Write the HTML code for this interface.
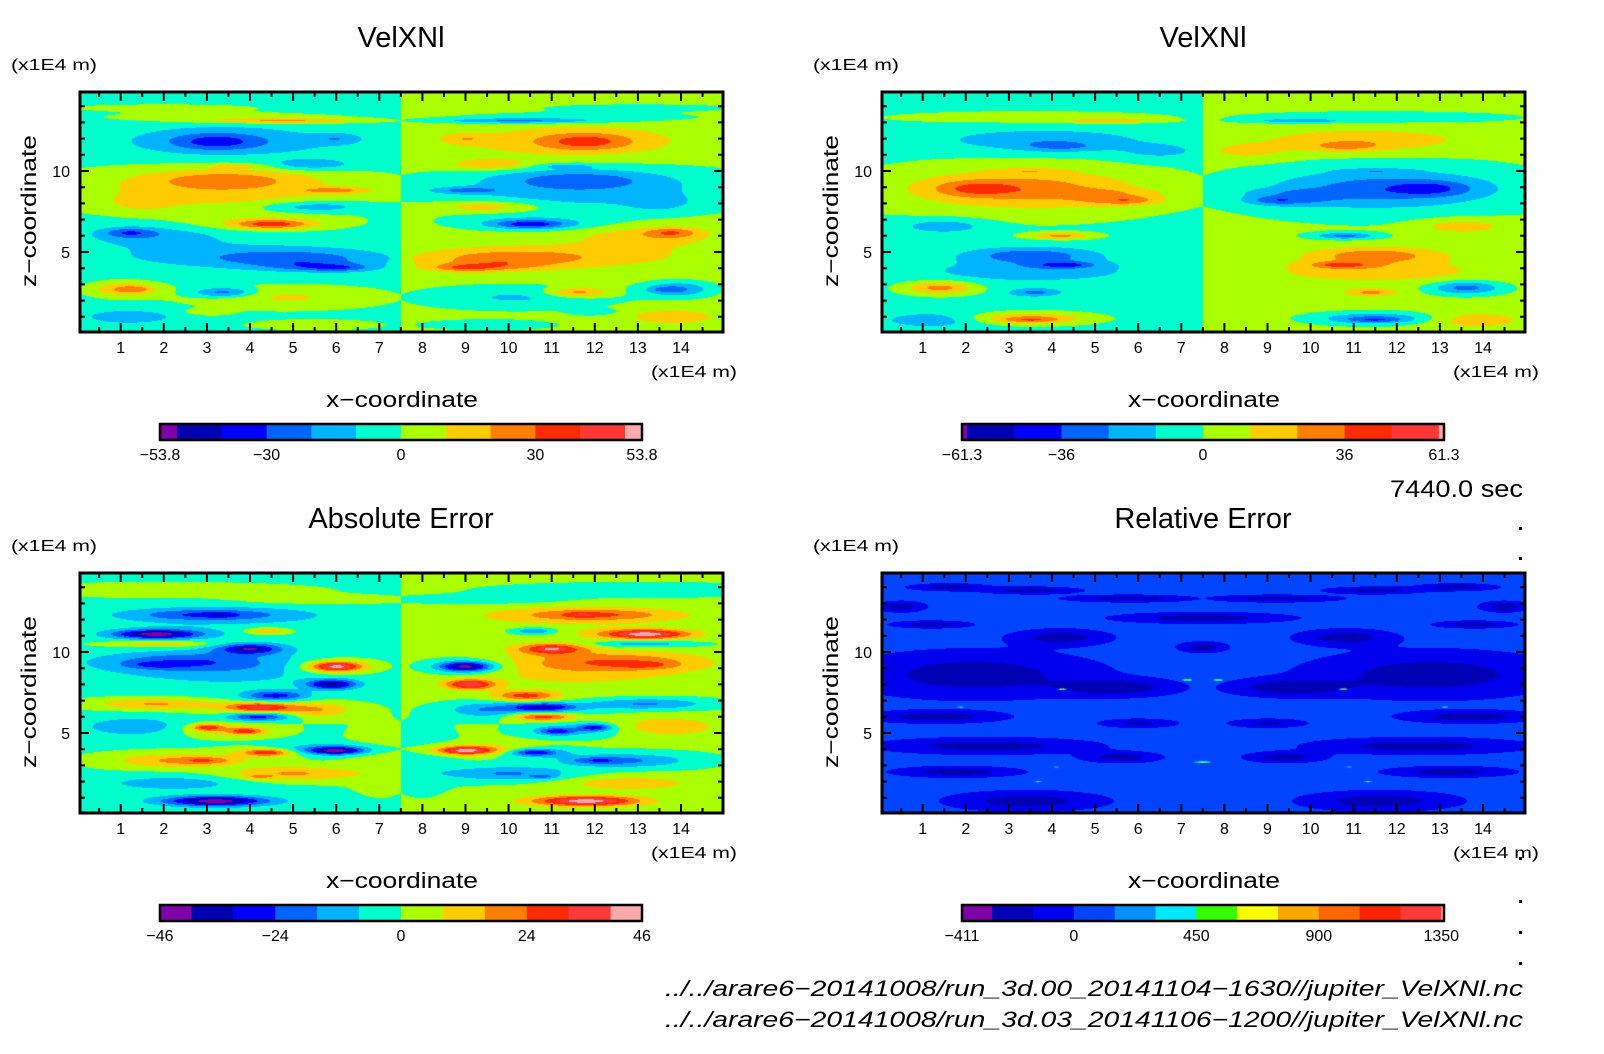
<!DOCTYPE html>
<html><head><meta charset="utf-8">
<style>
html,body{margin:0;padding:0;background:#fff;}
#wrap{position:relative;width:1604px;height:1054px;overflow:hidden;background:#fff;}
canvas{position:absolute;}
svg{position:absolute;left:0;top:0;}
text{font-family:"Liberation Sans",sans-serif;fill:#000;}
</style></head>
<body>
<div id="wrap">
<canvas id="c0"></canvas>
<canvas id="c1"></canvas>
<canvas id="c2"></canvas>
<canvas id="c3"></canvas>
<svg id="svg" width="1604" height="1054" xmlns="http://www.w3.org/2000/svg"></svg>
</div>
<script>
// ---- data ----
const titles = ["VelXNl", "VelXNl", "Absolute Error", "Relative Error"];
const xTicks = [1,2,3,4,5,6,7,8,9,10,11,12,13,14];
const zTicks = [5,10];
const mirrorModes = ["neg","neg","neg","sym"];
const baseValues = [-3, -3, -1, 60];
const levelsA = [-53.8,-50,-40,-30,-20,-10,0,10,20,30,40,50,53.8];
const levelsB = [-61.3,-60,-48,-36,-24,-12,0,12,24,36,48,60,61.3];
const levelsC = [-46,-40,-32,-24,-16,-8,0,8,16,24,32,40,46];
const levelsD = [-411,-300,-150,0,150,300,450,600,750,900,1050,1200,1350,1360];
const cbLabelsA = [-53.8,-30,0,30,53.8];
const cbLabelsB = [-61.3,-36,0,36,61.3];
const cbLabelsC = [-46,-24,0,24,46];
const cbLabelsD = [-411,0,450,900,1350];
const paletteMain = ['#8000aa','#0000b0','#0000ff','#0064ff','#00b4ff','#00ffcc','#aaff00','#ffcc00','#ff7f00','#ff2a00','#ff3838','#ffaaaa'];
const paletteRel = ['#8000a8','#0000b4','#0000ee','#0044ff','#0090ff','#00e8ff','#33ff00','#ffff00','#ffa800','#ff6600','#ff2200','#ff3838','#ffaaaa'];
// blobs: [x, z, amplitude, sx, sz]  (left half; right half mirrored)
const blobsA = [
[2,13.9,5,3,0.3],[3.5,13.3,8,3,0.3],[4.8,13.1,22,1.8,0.15],
[3.2,11.8,-15,0.9,0.45],[3.2,11.9,-12,1.7,0.8],[4,11.7,-8,3.2,1.0],[5.4,10.4,-16,1,0.35],[6,12,-12,0.5,0.3],
[3.3,8.8,18,3.6,1.4],[3.4,9.5,16,1.8,0.6],[6,8.8,18,0.8,0.2],[3.7,10.3,12,0.7,0.15],[1.5,8,10,0.7,0.5],
[5.5,7.8,-18,1.2,0.35],[4.5,6.7,26,0.8,0.25],[4.5,6.8,14,1.6,0.45],
[1.2,6.2,-20,0.6,0.3],[1.8,6,-12,1.5,0.6],
[5,4.6,-18,1.8,0.5],[6.1,4,-14,0.7,0.22],[5.5,4.1,-15,1.2,0.3],[3.5,4.8,-10,3.5,0.9],
[1.1,2.7,25,0.75,0.45],[1.4,2.7,10,0.3,0.15],[3.4,2.5,-26,0.7,0.3],[4.8,2.2,14,2.2,0.7],[3.0,1.3,12,0.5,0.2],
[1.2,1,-12,1.2,0.5],[5.5,0.5,6,2,0.4]
];
const blobsB = [
[3.5,13.3,8,3.5,0.4],[5.3,13.1,22,1,0.12],
[3.8,11.9,-18,2.4,0.7],[4.2,11.5,-15,0.9,0.3],[6.5,11.2,-12,1,0.5],
[3.3,8.8,20,3.2,1.6],[3.3,9,14,2.4,0.9],[5.5,8.2,14,1.2,0.4],[5.8,8.2,14,0.6,0.25],
[2.2,8.9,18,0.9,0.45],[3.5,10,12,0.8,0.15],[5.2,8.7,8,1.5,0.25],
[1.5,6.6,-18,1,0.45],[4.2,6,30,0.7,0.2],
[3.5,4.8,-28,1.5,0.5],[4.3,4.2,-20,0.8,0.22],[4.3,4.2,-10,0.4,0.12],[3.5,3.8,-16,2.6,0.7],
[1.4,2.8,32,0.8,0.4],[3.6,2.5,-24,0.6,0.25],[3.5,0.9,30,1.3,0.35],[3.5,0.8,14,0.6,0.15],
[1.2,0.8,-16,1.2,0.5]
];
const blobsC = [
[2,13.8,6,3,0.4],[5.5,13.2,6,2,0.3],
[1.8,11.1,-32,0.9,0.25],[2,11.1,-12,1.4,0.4],[1.9,10.5,15,1.2,0.2],[4.4,11.3,18,0.5,0.2],
[3,12.3,-18,1.6,0.35],[3.3,12.3,-10,0.3,0.15],[3.5,12.2,-8,3.5,0.8],
[4,10.2,-30,0.8,0.35],[4,10.2,-10,0.25,0.12],
[2.5,9.4,-18,2,0.6],[1.8,9.2,-10,0.6,0.2],[3.5,8.8,-9,3,1.2],
[6,9.1,35,0.55,0.28],[6,9.1,14,1,0.5],[5.9,8,-36,0.55,0.3],[4.6,7.3,-26,0.7,0.3],
[1.8,6.8,18,1.4,0.35],[4.2,6.6,28,0.7,0.25],[4.5,6.5,10,1.5,0.4],[4.2,6,-28,0.7,0.25],[5.6,6.4,12,0.8,0.5],
[3,5.35,26,0.35,0.2],[3.9,5.1,22,0.4,0.2],[3.5,5.2,12,1.1,0.45],[1.3,5.4,-13,1.2,0.6],
[6,3.9,-32,0.6,0.22],[5.8,4,-16,1.2,0.35],[4.4,3.8,24,0.5,0.2],[4.4,3.8,10,1,0.35],
[2.3,3.3,18,1.5,0.45],[3,3.3,12,0.6,0.2],[5,2.5,18,1.5,0.45],[4.2,2.3,12,0.3,0.12],
[2.2,1.9,-12,1.6,0.45],[3.2,0.8,-32,1.1,0.28],[3.2,0.8,-12,1.6,0.4],[7,3.5,5,0.8,2]
];
const blobsD = [
[2.2,8.6,-300,2.6,1.3],[5.5,7.8,-300,1.3,0.5],[4.2,10.9,-300,1.0,0.45],
[7.5,12.1,-300,1.8,0.3],[7.5,10.3,-300,0.5,0.3],
[1.6,14,-300,0.8,0.2],[3.5,13.8,-300,1,0.2],[5.8,13.3,-300,1.3,0.2],[1.2,11.7,-300,0.8,0.2],
[1.3,6,-300,1.4,0.35],[2.5,4.2,-300,2.2,0.45],[5.6,3.5,-300,0.8,0.3],[1.8,2.6,-300,1.3,0.3],[3.4,0.8,-300,1.6,0.55],
[0.5,12.8,-300,0.5,0.3],[6,5.6,-250,0.8,0.25],
[4.24,7.7,1100,0.08,0.05],[7.14,8.27,700,0.1,0.05],[1.88,6.6,400,0.08,0.05],[7.5,3.2,650,0.15,0.05],
[3.67,2,350,0.08,0.05],[4.1,2.9,250,0.08,0.04]
];
const allBlobs = [blobsA, blobsB, blobsC, blobsD];
const allLevels = [levelsA, levelsB, levelsC, levelsD];
const allPalettes = [paletteMain, paletteMain, paletteMain, paletteRel];
const allCbLabels = [cbLabelsA, cbLabelsB, cbLabelsC, cbLabelsD];

// ---- geometry ----
const offsets = [[0,0],[802,0],[0,481],[802,481]];
const FX0=80, FX1=723, FY0=92, FY1=332;
const X0PX=77.6, XS=43.1, Z0PX=333, ZS=16.2;
const CB0=160, CB1=642, CBY0=424, CBY1=440;
function xScale(v){return X0PX + v*XS;}
function zScale(v){return Z0PX - v*ZS;}
function hex(c){return [parseInt(c.slice(1,3),16),parseInt(c.slice(3,5),16),parseInt(c.slice(5,7),16)];}

function fieldAt(blobs, base, xm, z){
  let v = base;
  for (const b of blobs){
    const dx=(xm-b[0])/b[3], dz=(z-b[1])/b[4];
    const e=dx*dx+dz*dz;
    if (e<12) v += b[2]*Math.exp(-e);
  }
  return v;
}

for (let p=0;p<4;p++){
  const cv=document.getElementById('c'+p);
  const W=FX1-FX0, H=FY1-FY0;
  cv.width=W; cv.height=H;
  cv.style.left=(FX0+offsets[p][0])+'px'; cv.style.top=(FY0+offsets[p][1])+'px';
  const ctx=cv.getContext('2d');
  const img=ctx.createImageData(W,H);
  const lev=allLevels[p], pal=allPalettes[p].map(hex), blobs=allBlobs[p];
  for (let j=0;j<H;j++){
    const z=(Z0PX-(FY0+j+0.5))/ZS;
    for (let i=0;i<W;i++){
      const x=(FX0+i+0.5-X0PX)/XS;
      let xm=x, s=1, base=baseValues[p];
      if (x>=7.5){ xm=15-x; if (mirrorModes[p]==='neg') s=-1; }
      const v=s*fieldAt(blobs, base, xm, z);
      let k=0; while(k<pal.length-1 && v>=lev[k+1]) k++;
      const c=pal[k], o=(j*W+i)*4;
      img.data[o]=c[0]; img.data[o+1]=c[1]; img.data[o+2]=c[2]; img.data[o+3]=255;
    }
  }
  ctx.putImageData(img,0,0);
}

// ---- annotations ----
const NS='http://www.w3.org/2000/svg';
const svg=document.getElementById('svg');
function mk(tag, attrs, parent, txt){
  const e=document.createElementNS(NS,tag);
  for (const k in attrs) e.setAttribute(k,attrs[k]);
  if (txt!==undefined) e.textContent=txt;
  (parent||svg).appendChild(e); return e;
}
for (let p=0;p<4;p++){
  const [ox,oy]=offsets[p];
  const g=mk('g',{transform:`translate(${ox},${oy})`});
  
  
  let t=mk('text',{x:401,y:47,'font-size':29,'text-anchor':'middle'},g,titles[p]);
  
  
  t=mk('text',{x:11,y:70,'font-size':16,textLength:86,lengthAdjust:'spacingAndGlyphs'},g,'(x1E4 m)');
  
  
  t=mk('text',{x:0,y:0,'font-size':21,'text-anchor':'middle',textLength:152,lengthAdjust:'spacingAndGlyphs',transform:'translate(36,211) rotate(-90)'},g,'z\u2212coordinate');
  
  
  t=mk('text',{x:402,y:407,'font-size':22,'text-anchor':'middle',textLength:152,lengthAdjust:'spacingAndGlyphs'},g,'x\u2212coordinate');
  
  
  t=mk('text',{x:651,y:377,'font-size':16,textLength:86,lengthAdjust:'spacingAndGlyphs'},g,'(x1E4 m)');
  
  
  for (let v=0.5; v<15; v+=0.5){
    const X=xScale(v); if (X<=FX0+1||X>=FX1-1) continue;
    const L=(Math.abs(v-Math.round(v))<1e-6)?9:5;
    const tk=mk('path',{d:`M${X},${FY0} v${L} M${X},${FY1} v${-L}`,stroke:'#000','stroke-width':2},g);
    
    
  }
  for (let v=1; v<15; v++){
    const Y=zScale(v); if (Y<=FY0+1) continue;
    const L=(v%5===0)?9:5;
    const tk=mk('path',{d:`M${FX0},${Y} h${L} M${FX1},${Y} h${-L}`,stroke:'#000','stroke-width':2},g);
    
    
  }
  for (const v of xTicks){
    const tl=mk('text',{x:xScale(v),y:353,'font-size':16,'text-anchor':'middle'},g,String(v));
    
    
  }
  for (const v of zTicks){
    const tl=mk('text',{x:70,y:zScale(v)+6,'font-size':16,'text-anchor':'end'},g,String(v));
    
    
  }
  const fr=mk('rect',{x:FX0,y:FY0,width:FX1-FX0,height:FY1-FY0,fill:'none',stroke:'#000','stroke-width':3},g);
  
  
  const lev=allLevels[p], pal=allPalettes[p];
  const lo=lev[0], hi=lev[lev.length-1];
  const cbx=v=>CB0+(v-lo)/(hi-lo)*(CB1-CB0);
  for (let k=0;k<pal.length;k++){
    const r=mk('rect',{x:cbx(lev[k]),y:CBY0,width:cbx(lev[k+1])-cbx(lev[k])+0.5,height:CBY1-CBY0,fill:pal[k]},g);
    
    
  }
  const cb=mk('rect',{x:CB0,y:CBY0,width:CB1-CB0,height:CBY1-CBY0,fill:'none',stroke:'#000','stroke-width':2.5},g);
  
  
  for (const v of allCbLabels[p]){
    const tl=mk('text',{x:cbx(v),y:460,'font-size':16,'text-anchor':'middle'},g,v<0?'\u2212'+Math.abs(v):String(v));
    
    
  }
}
let tt=mk('text',{x:1523,y:497,'font-size':24,'text-anchor':'end',textLength:133,lengthAdjust:'spacingAndGlyphs'},svg,'7440.0 sec');


tt=mk('text',{x:1523,y:996,'font-size':22,'font-style':'italic','text-anchor':'end',textLength:858,lengthAdjust:'spacingAndGlyphs'},svg,'../../arare6\u221220141008/run_3d.00_20141104\u22121630//jupiter_VelXNl.nc');


tt=mk('text',{x:1523,y:1027,'font-size':22,'font-style':'italic','text-anchor':'end',textLength:858,lengthAdjust:'spacingAndGlyphs'},svg,'../../arare6\u221220141008/run_3d.03_20141106\u22121200//jupiter_VelXNl.nc');


for (const y of [527,557,857,900,931,962]){
  const d=mk('rect',{x:1519,y:y,width:3,height:3,fill:'#000'});
  
  
}
</script>
</body></html>
